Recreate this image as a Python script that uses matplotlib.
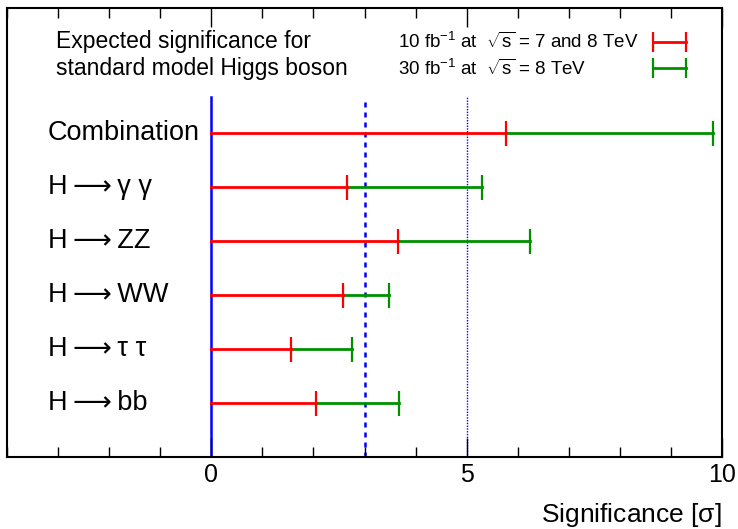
import matplotlib
matplotlib.use("Agg")
import matplotlib.pyplot as plt
from matplotlib.ticker import MultipleLocator

plt.rcParams['font.family'] = ['Liberation Sans', 'DejaVu Sans']
plt.rcParams['mathtext.fontset'] = 'custom'
plt.rcParams['mathtext.rm'] = 'Liberation Sans'
plt.rcParams['mathtext.it'] = 'Liberation Sans'

categories = ["Combination", "H\u2009\u27f6\u2009\u03b3 \u03b3", "H\u2009\u27f6\u2009ZZ",
              "H\u2009\u27f6\u2009WW", "H\u2009\u27f6\u2009\u03c4 \u03c4", "H\u2009\u27f6\u2009bb"]
sig_10fb = [5.78, 2.65, 3.65, 2.58, 1.56, 2.05]
sig_30fb = [9.82, 5.30, 6.24, 3.48, 2.75, 3.67]
legend_labels = ["10 fb$^{-1}$ at  $\\sqrt{s}$ = 7 and 8 TeV", "30 fb$^{-1}$ at  $\\sqrt{s}$ = 8 TeV"]

fig = plt.figure(figsize=(7.38, 5.29), dpi=100)
ax = fig.add_axes([7/738, 1 - 457/529, (722-7)/738, (457-8)/529])
ax.set_xlim(-4, 10)
ax.set_ylim(0, 8.32)

n = len(categories)
ypos = [n - i for i in range(n)]

# reference lines
ax.plot([0, 0], [0, 6.67], color='#0000ff', lw=1.8, zorder=1)
ax.plot([3, 3], [0, 6.67], color='#0000ff', lw=1.8, ls=(0, (2, 2)), zorder=1)
ax.plot([5, 5], [0, 6.67], color='#0000ff', lw=1.0, ls=(0, (1, 1)), zorder=1)

for y, r, g in zip(ypos, sig_10fb, sig_30fb):
    ax.plot([r, g], [y, y], color='#009000', lw=2, zorder=2)
    ax.plot([g], [y], marker='|', color='#009000', ms=18, mew=1.6, zorder=2)
    ax.plot([0, r], [y, y], color='#ff0000', lw=2, zorder=3)
    ax.plot([r], [y], marker='|', color='#ff0000', ms=18, mew=1.6, zorder=3)

for y, lab in zip(ypos, categories):
    ax.text(-3.2, y, lab, fontsize=19.5, va='center', ha='left',
            family=['Liberation Sans', 'DejaVu Sans'])

ax.text(-3.05, 7.69, "Expected significance for", fontsize=16.5, va='center', ha='left')
ax.text(-3.05, 7.2, "standard model Higgs boson", fontsize=16.5, va='center', ha='left')

leg_y = [7.69, 7.2]
leg_col = ['#ff0000', '#009000']
for yy, lab, c in zip(leg_y, legend_labels, leg_col):
    ax.text(3.65, yy, lab, fontsize=13.5, va='center', ha='left')
    ax.plot([8.65, 9.3], [yy, yy], color=c, lw=2)
    ax.plot([8.65, 9.3], [yy, yy], ls='none', marker='|', color=c, ms=14, mew=1.6)

ax.xaxis.set_major_locator(MultipleLocator(5))
ax.xaxis.set_minor_locator(MultipleLocator(1))
ax.set_yticks([])
ax.tick_params(axis='x', which='major', length=14, width=1, direction='in', top=True,
               labelsize=18, pad=4)
ax.tick_params(axis='x', which='minor', length=7, width=1, direction='in', top=True)
for s in ax.spines.values():
    s.set_linewidth(1.5)

fig.text(722/738, 1 - 515/529, "Significance [$\\sigma$]", fontsize=19, ha='right', va='center')

fig.savefig("out.png", dpi=100)
